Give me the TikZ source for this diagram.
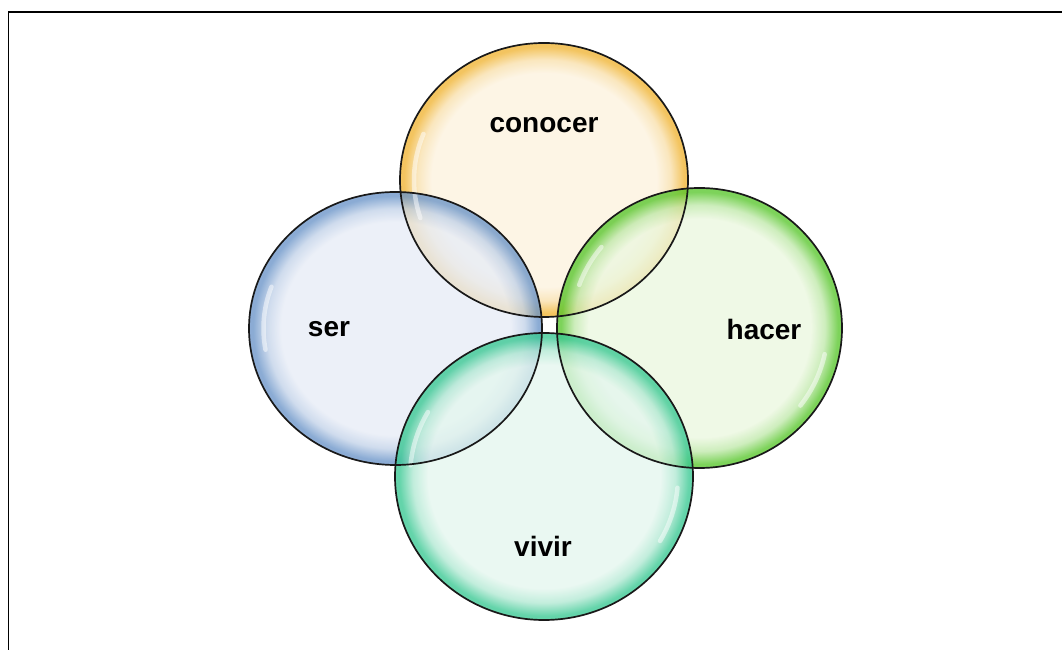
\documentclass[tikz,border=0pt]{standalone}
\usepackage{fontspec}
\setmainfont{Liberation Sans}
\usetikzlibrary{shapes.geometric}

\definecolor{conocerpale}{HTML}{FCF2DE}
\definecolor{conocerdeep}{HTML}{F0B433}
\definecolor{serpale}{HTML}{E7ECF6}
\definecolor{serdeep}{HTML}{6A94C8}
\definecolor{hacerpale}{HTML}{EBF7DF}
\definecolor{hacerdeep}{HTML}{58C62C}
\definecolor{vivirpale}{HTML}{E4F6EE}
\definecolor{vivirdeep}{HTML}{38C892}

\newcommand{\bubbleshading}[1]{%
  \pgfdeclareradialshading{#1shade}{\pgfpoint{0bp}{0bp}}{%
    color(0bp)=(#1pale); color(19.5bp)=(#1pale);
    color(22bp)=(#1pale!70!#1deep); color(24.3bp)=(#1deep);
    color(25bp)=(#1deep); color(50bp)=(#1deep)}}
\bubbleshading{conocer}
\bubbleshading{ser}
\bubbleshading{hacer}
\bubbleshading{vivir}

\tikzset{
  bubble/.style={ellipse, inner sep=0pt, shade, fill opacity=0.78},
  rim/.style={draw=black!90, line width=1.7pt},
  word/.style={font=\bfseries\fontsize{28}{32}\selectfont},
  glint/.style={white, line width=4.5pt, line cap=round, opacity=0.5},
  frame/.style={black, line width=1.6pt}
}

\begin{document}
\begin{tikzpicture}[x=1pt,y=1pt]
   \useasboundingbox (0,0) rectangle (1062,650);
   \draw[frame] (8.5,0) |- (1062,638);

   % the four bubbles
   \path (544,470) node[bubble, shading=conocershade,
     minimum width=288pt, minimum height=274pt] (conocer) {};
   \path (395.5,321.5) node[bubble, shading=sershade,
     minimum width=293pt, minimum height=273pt] (ser) {};
   \path (699.5,322) node[bubble, shading=hacershade,
     minimum width=285pt, minimum height=280pt] (hacer) {};
   \path (544,173.5) node[bubble, shading=vivirshade,
     minimum width=298pt, minimum height=287pt] (vivir) {};

   % glass reflections
   \draw[glint] (conocer.center) ++(158:130 and 123)
     arc[start angle=158, end angle=198, x radius=130, y radius=123];
   \draw[glint] (ser.center) ++(160:132 and 122)
     arc[start angle=160, end angle=190, x radius=132, y radius=122];
   \draw[glint] (hacer.center) ++(-38:128 and 126)
     arc[start angle=-38, end angle=-12, x radius=128, y radius=126];
   \draw[glint] (hacer.center) ++(140:128 and 126)
     arc[start angle=140, end angle=160, x radius=128, y radius=126];
   \draw[glint] (vivir.center) ++(-30:134 and 129)
     arc[start angle=-30, end angle=-5, x radius=134, y radius=129];
   \draw[glint] (vivir.center) ++(150:134 and 129)
     arc[start angle=150, end angle=175, x radius=134, y radius=129];

   % outlines on top of all fills
   \draw[rim] (conocer.center) ellipse [x radius=144, y radius=137];
   \draw[rim] (ser.center) ellipse [x radius=146.5, y radius=136.5];
   \draw[rim] (hacer.center) ellipse [x radius=142.5, y radius=140];
   \draw[rim] (vivir.center) ellipse [x radius=149, y radius=143.5];

   % labels
   \path (544,525) node[word] (conocern) {conocer};
   \path (329,321) node[word] (sern) {ser};
   \path (764,321) node[word] (hacern) {hacer};
   \path (543,104) node[word] (vivirn) {vivir};
\end{tikzpicture}
\end{document}
